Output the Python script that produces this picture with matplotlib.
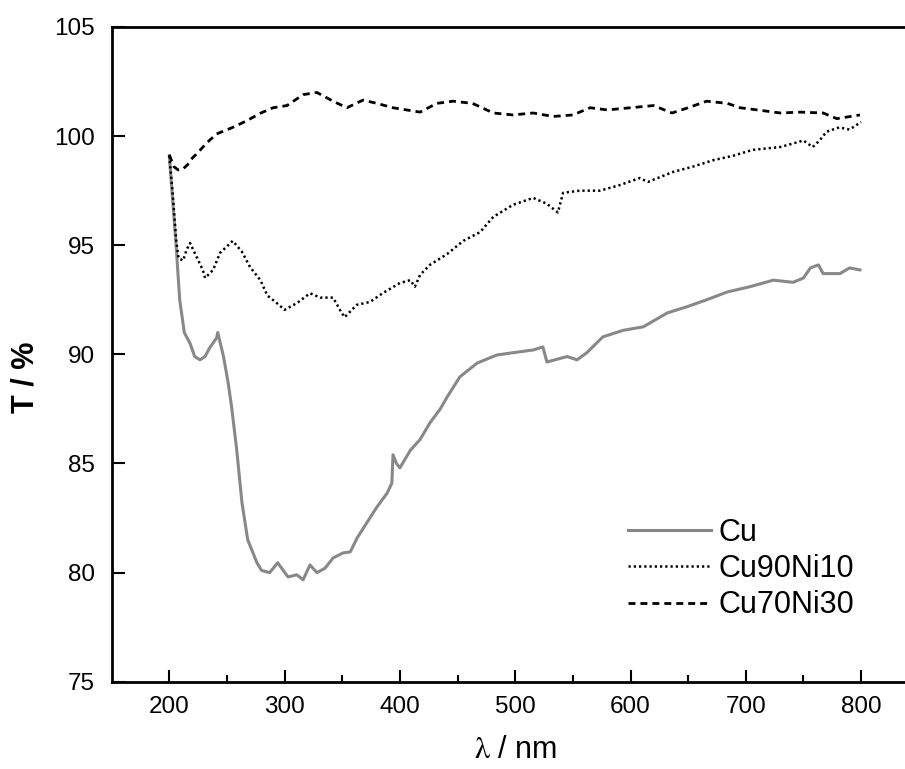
import matplotlib
matplotlib.use("Agg")
import matplotlib.pyplot as plt

plt.rcParams['font.family'] = ['Liberation Sans', 'DejaVu Sans']
plt.rcParams['mathtext.fontset'] = 'stix'

# Cu (grey solid)
cu_x = [200, 203, 206, 209, 213, 218, 222, 226.6, 231, 235, 241, 242, 247, 251, 254,
        258.5, 263, 268, 276, 280, 287, 294, 303, 310.6, 316, 322, 328, 335, 342,
        350.6, 357, 363, 371.5, 380, 389, 393, 394, 397, 400, 409, 417.5, 426, 435,
        441, 452, 467, 484, 501.5, 515.6, 524, 527.5, 545, 553.6, 562, 576, 593.5,
        611, 632, 650, 666, 684, 703.6, 724, 741, 750, 756, 763, 767, 781.6, 790, 799]
cu_y = [99.1, 97.0, 94.9, 92.5, 91.0, 90.5, 89.9, 89.75, 89.9, 90.3, 90.75, 91.0, 89.9,
        88.7, 87.6, 85.6, 83.2, 81.5, 80.45, 80.1, 80.0, 80.45, 79.8, 79.9, 79.67,
        80.35, 80.0, 80.2, 80.67, 80.9, 80.95, 81.6, 82.3, 83.0, 83.65, 84.1, 85.4,
        85.0, 84.8, 85.6, 86.1, 86.86, 87.5, 88.05, 88.97, 89.6, 89.97, 90.1, 90.2,
        90.34, 89.65, 89.9, 89.75, 90.07, 90.8, 91.1, 91.26, 91.9, 92.2, 92.5, 92.86,
        93.1, 93.4, 93.3, 93.5, 93.96, 94.1, 93.7, 93.7, 93.96, 93.87]

# Cu90Ni10 (dotted)
ni10_x = [200, 203, 206, 208, 212, 215, 218, 222, 229, 231, 238, 244, 251, 255, 263,
          270, 279, 285, 293, 300, 311, 322, 331, 342, 348, 352, 362.6, 374, 385,
          400, 409, 413, 417.5, 426, 441, 455, 469.5, 481, 498, 515.6, 527.5, 537,
          541.5, 556, 573.5, 591, 608, 615, 637, 654, 672, 689, 706, 730, 750, 758,
          764, 770, 781, 790, 800]
ni10_y = [99.1, 97.3, 95.2, 94.4, 94.3, 94.8, 95.1, 94.65, 93.87, 93.5, 93.87, 94.65,
          95.0, 95.2, 94.7, 94.0, 93.4, 92.7, 92.36, 92.04, 92.36, 92.8, 92.6, 92.6,
          92.04, 91.7, 92.27, 92.4, 92.8, 93.27, 93.4, 93.1, 93.64, 94.1, 94.6, 95.2,
          95.6, 96.3, 96.85, 97.17, 96.9, 96.5, 97.4, 97.5, 97.5, 97.76, 98.08, 97.9,
          98.36, 98.6, 98.9, 99.1, 99.37, 99.5, 99.8, 99.5, 99.8, 100.2, 100.4,
          100.3, 100.65]

# Cu70Ni30 (dashed)
ni30_x = [200, 204, 207.7, 212, 216, 220, 224, 232.6, 241, 255, 267, 279, 290, 302,
          316, 328, 342, 354, 368, 380, 394, 417.5, 432, 446, 463, 481, 498, 515.6,
          533, 550, 565, 580, 600, 620, 636, 650, 666, 684, 695, 710, 730, 747, 767,
          779, 799]
ni30_y = [99.14, 98.6, 98.45, 98.5, 98.7, 99.0, 99.2, 99.7, 100.1, 100.4, 100.7, 101.05,
          101.3, 101.4, 101.9, 102.0, 101.6, 101.3, 101.65, 101.5, 101.3, 101.1, 101.5,
          101.6, 101.5, 101.06, 100.97, 101.06, 100.9, 100.97, 101.3, 101.2, 101.3,
          101.4, 101.06, 101.3, 101.6, 101.5, 101.3, 101.2, 101.06, 101.1, 101.06,
          100.8, 100.97]

labels = ['Cu', 'Cu90Ni10', 'Cu70Ni30']
x_ticks = [200, 300, 400, 500, 600, 700, 800]
y_ticks = [75, 80, 85, 90, 95, 100, 105]

fig = plt.figure(figsize=(9.05, 7.69), dpi=100)
ax = fig.add_axes([0.1234, 0.1135, 0.8918, 0.8514])

ax.plot(cu_x, cu_y, color='#888888', lw=2.2, label=labels[0])
ax.plot(ni10_x, ni10_y, color='black', lw=1.8, dashes=(0.9, 1.2), label=labels[1])
ax.plot(ni30_x, ni30_y, color='black', lw=2.0, dashes=(2.5, 1.8), label=labels[2])

ax.set_xlim(150, 850)
ax.set_ylim(75, 105)
ax.set_xticks(x_ticks)
ax.set_xticks([250, 350, 450, 550, 650, 750], minor=True)
ax.set_yticks(y_ticks)
ax.tick_params(which='major', direction='in', length=9, width=1.5, labelsize=17.5, pad=10)
ax.tick_params(which='minor', direction='in', length=5, width=1.5)
ax.tick_params(axis='y', pad=12)
for s in ax.spines.values():
    s.set_linewidth(2)

fig.text(25 / 905, 1 - 377 / 769, 'T / %', rotation=90, ha='center', va='center',
         fontsize=22, fontweight='bold')
fig.text(515 / 905, 1 - 750 / 769, r'$\mathrm{\lambda}$ / nm', ha='center', va='center',
         fontsize=22)

ax.legend(loc='upper left', bbox_to_anchor=(628 / 905, 1 - 518 / 769),
          bbox_transform=fig.transFigure, frameon=False, fontsize=22,
          handlelength=2.7, handletextpad=0.25, labelspacing=0.2,
          borderpad=0, borderaxespad=0)

fig.savefig('out.png', dpi=100)
